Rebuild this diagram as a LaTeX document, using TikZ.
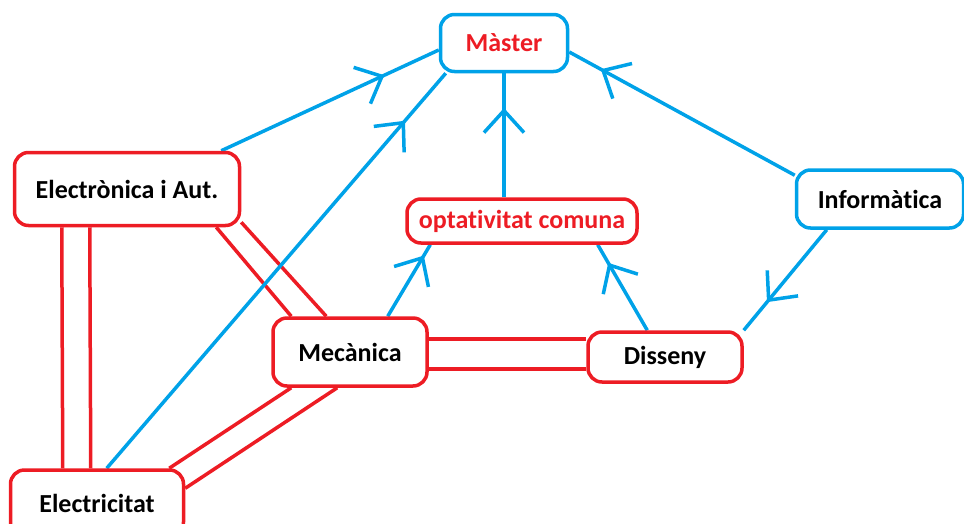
\documentclass[tikz,border=0pt]{standalone}
\usepackage{fontspec}
\setmainfont{Carlito}[Ligatures=NoCommon]
\usetikzlibrary{arrows.meta,decorations.markings,backgrounds}
\definecolor{pblau}{RGB}{0,162,232}
\definecolor{pvermell}{RGB}{237,28,36}

\begin{document}
\begin{tikzpicture}[
  x=1pt, y=-1pt,
  line cap=round,
  line join=round,
  caixa/.style={draw, line width=3.5pt, rounded corners=14pt, inner sep=0pt,
    font=\fontsize{26}{30}\selectfont\bfseries},
  vermella/.style={caixa, draw=pvermell},
  blava/.style={caixa, draw=pblau},
  via/.style={draw=pvermell, line width=3.5pt},
  flux/.style={pblau, line width=3.5pt, postaction=decorate,
    decoration={markings, mark=at position #1 with
      {\arrow{Straight Barb[length=22pt,width=40pt]}}}}
]
  \useasboundingbox (0,0) rectangle (964,523);

  % Caixes
  \node[blava, text=pvermell, minimum width=127pt, minimum height=57pt]
    (master) at (504,43) {Màster};
  \node[vermella, minimum width=225pt, minimum height=73pt]
    (electronica) at (127,189) {Electrònica i Aut.};
  \node[vermella, text=pvermell, minimum width=230pt, minimum height=44pt]
    (optativa) at (522,221) {optativitat comuna};
  \node[blava, minimum width=167pt, minimum height=58pt]
    (informatica) at (880,199) {Informàtica};
  \node[vermella, minimum width=154pt, minimum height=68pt]
    (mecanica) at (350,352) {Mecànica};
  \node[vermella, minimum width=154pt, minimum height=50pt]
    (disseny) at (665,357) {Disseny};
  \node[vermella, minimum width=173pt, minimum height=66pt]
    (electricitat) at (97,503) {Electricitat};

  \begin{scope}[on background layer]
    % Vies dobles
    \draw[via] ([xshift=49pt]electronica.south west)
      -- ([xshift=54pt]electricitat.north west);
    \draw[via] ([xshift=77pt]electronica.south west)
      -- ([xshift=82pt]electricitat.north west);

    \draw[via] ([xshift=-25pt]electronica.south east)
      -- ([xshift=20pt]mecanica.north west);
    \draw[via] ([yshift=5pt]electronica.south east)
      -- ([xshift=55pt]mecanica.north west);

    \draw[via] ([yshift=13pt]mecanica.east)
      -- ([yshift=18pt]disseny.west);
    \draw[via] ([yshift=-17pt]mecanica.east)
      -- ([yshift=-12pt]disseny.west);

    \draw[via] ([xshift=20pt]mecanica.south west)
      -- ([xshift=-16pt]electricitat.north east);
    \draw[via] ([xshift=66pt]mecanica.south west)
      -- ([yshift=-20pt]electricitat.north east);

    % Fletxes
    \draw[flux=0.75] ([xshift=-20pt]electronica.north east)
      -- ([yshift=-7pt]master.west);
    \draw[flux=0.88] ([xshift=98pt]electricitat.north west)
      -- ([xshift=7pt]master.south west);
    \draw[flux=0.72] (optativa.north -| master.south)
      -- (master.south);
    \draw[flux=0.86] ([yshift=-7pt]informatica.north west)
      -- ([yshift=-9pt]master.east);
    \draw[flux=0.72] ([xshift=32pt]informatica.south west)
      -- (disseny.north east);
    \draw[flux=0.85] ([xshift=-41pt]mecanica.north east)
      -- ([xshift=25pt]optativa.south west);
    \draw[flux=0.79] ([xshift=61pt]disseny.north west)
      -- ([xshift=-41pt]optativa.south east);
  \end{scope}
\end{tikzpicture}
\end{document}
